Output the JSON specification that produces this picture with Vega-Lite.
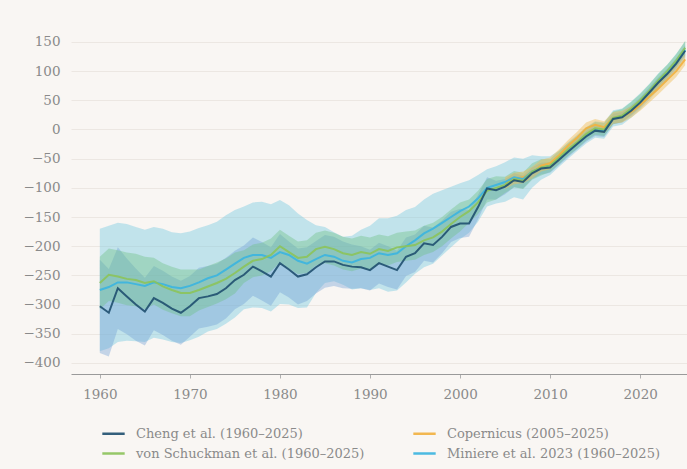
{
"$schema": "https://vega.github.io/schema/vega-lite/v6.json",
"width": 616, "height": 344,
"autosize": "none",
"padding": {"left": 71, "top": 30, "right": 0, "bottom": 95},
"background": "#f9f6f3",
"config": {"view": {"stroke": null}, "font": "DejaVu Serif"},
"data": {"values": [
{"s":"P","y":2005,"m":-92,"lo":-102,"hi":-82},{"s":"P","y":2006,"m":-84,"lo":-94,"hi":-74},{"s":"P","y":2007,"m":-82,"lo":-92,"hi":-72},{"s":"P","y":2008,"m":-74,"lo":-84,"hi":-64},{"s":"P","y":2009,"m":-62,"lo":-72,"hi":-52},{"s":"P","y":2010,"m":-58,"lo":-68,"hi":-48},{"s":"P","y":2011,"m":-44,"lo":-54,"hi":-34},{"s":"P","y":2012,"m":-28,"lo":-38,"hi":-18},{"s":"P","y":2013,"m":-14,"lo":-24,"hi":-4},{"s":"P","y":2014,"m":2,"lo":-8,"hi":12},{"s":"P","y":2015,"m":8,"lo":-2,"hi":18},{"s":"P","y":2016,"m":4,"lo":-6,"hi":14},{"s":"P","y":2017,"m":20,"lo":10,"hi":30},{"s":"P","y":2018,"m":22,"lo":12,"hi":32},{"s":"P","y":2019,"m":30,"lo":20,"hi":40},{"s":"P","y":2020,"m":42,"lo":32,"hi":52},{"s":"P","y":2021,"m":56,"lo":46,"hi":66},{"s":"P","y":2022,"m":70,"lo":60,"hi":80},{"s":"P","y":2023,"m":85,"lo":75,"hi":95},{"s":"P","y":2024,"m":100,"lo":90,"hi":110},{"s":"P","y":2025,"m":120,"lo":110,"hi":130},
{"s":"M","y":1960,"m":-275,"lo":-380,"hi":-170},{"s":"M","y":1961,"m":-270,"lo":-375,"hi":-165},{"s":"M","y":1962,"m":-262,"lo":-364,"hi":-160},{"s":"M","y":1963,"m":-262,"lo":-362,"hi":-162},{"s":"M","y":1964,"m":-265,"lo":-363,"hi":-167},{"s":"M","y":1965,"m":-268,"lo":-364,"hi":-172},{"s":"M","y":1966,"m":-262,"lo":-357,"hi":-167},{"s":"M","y":1967,"m":-265,"lo":-360,"hi":-170},{"s":"M","y":1968,"m":-270,"lo":-364,"hi":-176},{"s":"M","y":1969,"m":-272,"lo":-366,"hi":-178},{"s":"M","y":1970,"m":-268,"lo":-361,"hi":-175},{"s":"M","y":1971,"m":-262,"lo":-355,"hi":-169},{"s":"M","y":1972,"m":-255,"lo":-346,"hi":-164},{"s":"M","y":1973,"m":-250,"lo":-342,"hi":-158},{"s":"M","y":1974,"m":-240,"lo":-333,"hi":-147},{"s":"M","y":1975,"m":-230,"lo":-322,"hi":-138},{"s":"M","y":1976,"m":-220,"lo":-308,"hi":-132},{"s":"M","y":1977,"m":-215,"lo":-305,"hi":-125},{"s":"M","y":1978,"m":-215,"lo":-306,"hi":-124},{"s":"M","y":1979,"m":-220,"lo":-312,"hi":-128},{"s":"M","y":1980,"m":-210,"lo":-299,"hi":-121},{"s":"M","y":1981,"m":-215,"lo":-300,"hi":-130},{"s":"M","y":1982,"m":-225,"lo":-306,"hi":-144},{"s":"M","y":1983,"m":-230,"lo":-305,"hi":-155},{"s":"M","y":1984,"m":-222,"lo":-280,"hi":-164},{"s":"M","y":1985,"m":-215,"lo":-263,"hi":-167},{"s":"M","y":1986,"m":-218,"lo":-260,"hi":-176},{"s":"M","y":1987,"m":-225,"lo":-266,"hi":-184},{"s":"M","y":1988,"m":-228,"lo":-274,"hi":-182},{"s":"M","y":1989,"m":-222,"lo":-272,"hi":-172},{"s":"M","y":1990,"m":-220,"lo":-275,"hi":-165},{"s":"M","y":1991,"m":-212,"lo":-272,"hi":-152},{"s":"M","y":1992,"m":-215,"lo":-278,"hi":-152},{"s":"M","y":1993,"m":-212,"lo":-276,"hi":-148},{"s":"M","y":1994,"m":-200,"lo":-262,"hi":-138},{"s":"M","y":1995,"m":-190,"lo":-247,"hi":-133},{"s":"M","y":1996,"m":-178,"lo":-236,"hi":-120},{"s":"M","y":1997,"m":-170,"lo":-230,"hi":-110},{"s":"M","y":1998,"m":-160,"lo":-216,"hi":-104},{"s":"M","y":1999,"m":-150,"lo":-202,"hi":-98},{"s":"M","y":2000,"m":-140,"lo":-188,"hi":-92},{"s":"M","y":2001,"m":-132,"lo":-177,"hi":-87},{"s":"M","y":2002,"m":-118,"lo":-158,"hi":-78},{"s":"M","y":2003,"m":-100,"lo":-132,"hi":-68},{"s":"M","y":2004,"m":-95,"lo":-127,"hi":-63},{"s":"M","y":2005,"m":-90,"lo":-124,"hi":-56},{"s":"M","y":2006,"m":-82,"lo":-116,"hi":-48},{"s":"M","y":2007,"m":-85,"lo":-120,"hi":-50},{"s":"M","y":2008,"m":-72,"lo":-100,"hi":-44},{"s":"M","y":2009,"m":-66,"lo":-86,"hi":-46},{"s":"M","y":2010,"m":-62,"lo":-78,"hi":-46},{"s":"M","y":2011,"m":-50,"lo":-64,"hi":-36},{"s":"M","y":2012,"m":-36,"lo":-50,"hi":-22},{"s":"M","y":2013,"m":-23,"lo":-37,"hi":-9},{"s":"M","y":2014,"m":-10,"lo":-24,"hi":4},{"s":"M","y":2015,"m":0,"lo":-14,"hi":14},{"s":"M","y":2016,"m":-2,"lo":-16,"hi":12},{"s":"M","y":2017,"m":19,"lo":5,"hi":33},{"s":"M","y":2018,"m":22,"lo":8,"hi":36},{"s":"M","y":2019,"m":34,"lo":20,"hi":48},{"s":"M","y":2020,"m":48,"lo":34,"hi":62},{"s":"M","y":2021,"m":64,"lo":50,"hi":78},{"s":"M","y":2022,"m":82,"lo":68,"hi":96},{"s":"M","y":2023,"m":97,"lo":83,"hi":111},{"s":"M","y":2024,"m":116,"lo":102,"hi":130},{"s":"M","y":2025,"m":137,"lo":123,"hi":151},
{"s":"V","y":1960,"m":-263,"lo":-308,"hi":-218},{"s":"V","y":1961,"m":-249,"lo":-294,"hi":-204},{"s":"V","y":1962,"m":-252,"lo":-297,"hi":-207},{"s":"V","y":1963,"m":-256,"lo":-301,"hi":-211},{"s":"V","y":1964,"m":-258,"lo":-303,"hi":-213},{"s":"V","y":1965,"m":-263,"lo":-308,"hi":-218},{"s":"V","y":1966,"m":-260,"lo":-300,"hi":-220},{"s":"V","y":1967,"m":-269,"lo":-309,"hi":-229},{"s":"V","y":1968,"m":-275,"lo":-315,"hi":-235},{"s":"V","y":1969,"m":-280,"lo":-320,"hi":-240},{"s":"V","y":1970,"m":-280,"lo":-320,"hi":-240},{"s":"V","y":1971,"m":-275,"lo":-310,"hi":-240},{"s":"V","y":1972,"m":-269,"lo":-304,"hi":-234},{"s":"V","y":1973,"m":-263,"lo":-298,"hi":-228},{"s":"V","y":1974,"m":-256,"lo":-291,"hi":-221},{"s":"V","y":1975,"m":-246,"lo":-281,"hi":-211},{"s":"V","y":1976,"m":-235,"lo":-263,"hi":-207},{"s":"V","y":1977,"m":-225,"lo":-253,"hi":-197},{"s":"V","y":1978,"m":-222,"lo":-250,"hi":-194},{"s":"V","y":1979,"m":-215,"lo":-243,"hi":-187},{"s":"V","y":1980,"m":-200,"lo":-228,"hi":-172},{"s":"V","y":1981,"m":-210,"lo":-238,"hi":-182},{"s":"V","y":1982,"m":-220,"lo":-248,"hi":-192},{"s":"V","y":1983,"m":-218,"lo":-246,"hi":-190},{"s":"V","y":1984,"m":-205,"lo":-233,"hi":-177},{"s":"V","y":1985,"m":-201,"lo":-229,"hi":-173},{"s":"V","y":1986,"m":-205,"lo":-233,"hi":-177},{"s":"V","y":1987,"m":-212,"lo":-240,"hi":-184},{"s":"V","y":1988,"m":-215,"lo":-243,"hi":-187},{"s":"V","y":1989,"m":-210,"lo":-238,"hi":-182},{"s":"V","y":1990,"m":-213,"lo":-241,"hi":-185},{"s":"V","y":1991,"m":-205,"lo":-230,"hi":-180},{"s":"V","y":1992,"m":-208,"lo":-233,"hi":-183},{"s":"V","y":1993,"m":-202,"lo":-227,"hi":-177},{"s":"V","y":1994,"m":-200,"lo":-225,"hi":-175},{"s":"V","y":1995,"m":-198,"lo":-223,"hi":-173},{"s":"V","y":1996,"m":-190,"lo":-215,"hi":-165},{"s":"V","y":1997,"m":-185,"lo":-210,"hi":-160},{"s":"V","y":1998,"m":-175,"lo":-200,"hi":-150},{"s":"V","y":1999,"m":-162,"lo":-187,"hi":-137},{"s":"V","y":2000,"m":-150,"lo":-175,"hi":-125},{"s":"V","y":2001,"m":-140,"lo":-160,"hi":-120},{"s":"V","y":2002,"m":-125,"lo":-145,"hi":-105},{"s":"V","y":2003,"m":-105,"lo":-125,"hi":-85},{"s":"V","y":2004,"m":-100,"lo":-120,"hi":-80},{"s":"V","y":2005,"m":-95,"lo":-109,"hi":-81},{"s":"V","y":2006,"m":-85,"lo":-99,"hi":-71},{"s":"V","y":2007,"m":-88,"lo":-102,"hi":-74},{"s":"V","y":2008,"m":-72,"lo":-86,"hi":-58},{"s":"V","y":2009,"m":-65,"lo":-79,"hi":-51},{"s":"V","y":2010,"m":-62,"lo":-73,"hi":-51},{"s":"V","y":2011,"m":-48,"lo":-59,"hi":-37},{"s":"V","y":2012,"m":-34,"lo":-45,"hi":-23},{"s":"V","y":2013,"m":-22,"lo":-33,"hi":-11},{"s":"V","y":2014,"m":-8,"lo":-19,"hi":3},{"s":"V","y":2015,"m":2,"lo":-9,"hi":13},{"s":"V","y":2016,"m":0,"lo":-11,"hi":11},{"s":"V","y":2017,"m":20,"lo":9,"hi":31},{"s":"V","y":2018,"m":24,"lo":13,"hi":35},{"s":"V","y":2019,"m":36,"lo":25,"hi":47},{"s":"V","y":2020,"m":50,"lo":39,"hi":61},{"s":"V","y":2021,"m":66,"lo":55,"hi":77},{"s":"V","y":2022,"m":84,"lo":73,"hi":95},{"s":"V","y":2023,"m":100,"lo":89,"hi":111},{"s":"V","y":2024,"m":118,"lo":107,"hi":129},{"s":"V","y":2025,"m":140,"lo":128,"hi":152},
{"s":"C","y":1960,"m":-303,"lo":-383,"hi":-223},{"s":"C","y":1961,"m":-314,"lo":-389,"hi":-239},{"s":"C","y":1962,"m":-272,"lo":-342,"hi":-202},{"s":"C","y":1963,"m":-286,"lo":-351,"hi":-221},{"s":"C","y":1964,"m":-300,"lo":-362,"hi":-238},{"s":"C","y":1965,"m":-312,"lo":-370,"hi":-254},{"s":"C","y":1966,"m":-289,"lo":-344,"hi":-234},{"s":"C","y":1967,"m":-297,"lo":-352,"hi":-242},{"s":"C","y":1968,"m":-307,"lo":-362,"hi":-252},{"s":"C","y":1969,"m":-314,"lo":-369,"hi":-259},{"s":"C","y":1970,"m":-303,"lo":-355,"hi":-251},{"s":"C","y":1971,"m":-289,"lo":-341,"hi":-237},{"s":"C","y":1972,"m":-286,"lo":-338,"hi":-234},{"s":"C","y":1973,"m":-282,"lo":-334,"hi":-230},{"s":"C","y":1974,"m":-272,"lo":-324,"hi":-220},{"s":"C","y":1975,"m":-258,"lo":-308,"hi":-208},{"s":"C","y":1976,"m":-249,"lo":-299,"hi":-199},{"s":"C","y":1977,"m":-235,"lo":-285,"hi":-185},{"s":"C","y":1978,"m":-243,"lo":-293,"hi":-193},{"s":"C","y":1979,"m":-252,"lo":-302,"hi":-202},{"s":"C","y":1980,"m":-229,"lo":-279,"hi":-179},{"s":"C","y":1981,"m":-240,"lo":-288,"hi":-192},{"s":"C","y":1982,"m":-252,"lo":-300,"hi":-204},{"s":"C","y":1983,"m":-248,"lo":-294,"hi":-202},{"s":"C","y":1984,"m":-236,"lo":-281,"hi":-191},{"s":"C","y":1985,"m":-226,"lo":-271,"hi":-181},{"s":"C","y":1986,"m":-226,"lo":-268,"hi":-184},{"s":"C","y":1987,"m":-232,"lo":-272,"hi":-192},{"s":"C","y":1988,"m":-235,"lo":-273,"hi":-197},{"s":"C","y":1989,"m":-236,"lo":-272,"hi":-200},{"s":"C","y":1990,"m":-241,"lo":-276,"hi":-206},{"s":"C","y":1991,"m":-229,"lo":-264,"hi":-194},{"s":"C","y":1992,"m":-235,"lo":-270,"hi":-200},{"s":"C","y":1993,"m":-241,"lo":-274,"hi":-208},{"s":"C","y":1994,"m":-218,"lo":-251,"hi":-185},{"s":"C","y":1995,"m":-212,"lo":-244,"hi":-180},{"s":"C","y":1996,"m":-195,"lo":-225,"hi":-165},{"s":"C","y":1997,"m":-198,"lo":-228,"hi":-168},{"s":"C","y":1998,"m":-184,"lo":-212,"hi":-156},{"s":"C","y":1999,"m":-167,"lo":-193,"hi":-141},{"s":"C","y":2000,"m":-161,"lo":-186,"hi":-136},{"s":"C","y":2001,"m":-161,"lo":-184,"hi":-138},{"s":"C","y":2002,"m":-133,"lo":-154,"hi":-112},{"s":"C","y":2003,"m":-101,"lo":-120,"hi":-82},{"s":"C","y":2004,"m":-104,"lo":-120,"hi":-88},{"s":"C","y":2005,"m":-98,"lo":-111,"hi":-85},{"s":"C","y":2006,"m":-87,"lo":-99,"hi":-75},{"s":"C","y":2007,"m":-90,"lo":-101,"hi":-79},{"s":"C","y":2008,"m":-75,"lo":-85,"hi":-65},{"s":"C","y":2009,"m":-67,"lo":-77,"hi":-57},{"s":"C","y":2010,"m":-65,"lo":-74,"hi":-56},{"s":"C","y":2011,"m":-52,"lo":-61,"hi":-43},{"s":"C","y":2012,"m":-38,"lo":-47,"hi":-29},{"s":"C","y":2013,"m":-25,"lo":-34,"hi":-16},{"s":"C","y":2014,"m":-12,"lo":-21,"hi":-3},{"s":"C","y":2015,"m":-2,"lo":-11,"hi":7},{"s":"C","y":2016,"m":-4,"lo":-13,"hi":5},{"s":"C","y":2017,"m":18,"lo":9,"hi":27},{"s":"C","y":2018,"m":21,"lo":12,"hi":30},{"s":"C","y":2019,"m":32,"lo":23,"hi":41},{"s":"C","y":2020,"m":46,"lo":37,"hi":55},{"s":"C","y":2021,"m":63,"lo":54,"hi":72},{"s":"C","y":2022,"m":80,"lo":71,"hi":89},{"s":"C","y":2023,"m":95,"lo":86,"hi":104},{"s":"C","y":2024,"m":113,"lo":104,"hi":122},{"s":"C","y":2025,"m":135,"lo":126,"hi":144}
]},
"encoding": {
  "x": {"field": "y", "type": "quantitative", "scale": {"domain": [1956.8, 2025.2], "nice": false, "zero": false},
        "axis": {"values": [1960, 1970, 1980, 1990, 2000, 2010, 2020], "format": "d", "title": null, "grid": false,
                 "domainColor": "#9a9a9a", "tickColor": "#b0b0b0", "tickSize": 4, "labelColor": "#8a8a8a",
                 "labelFontSize": 13.5, "labelPadding": 9, "labelFont": "DejaVu Serif"}},
  "y": {"type": "quantitative", "scale": {"domain": [-419, 170.5], "nice": false, "zero": false},
        "axis": {"values": [-400, -350, -300, -250, -200, -150, -100, -50, 0, 50, 100, 150], "title": null,
                 "grid": true, "gridColor": "#ece7e2", "domain": false, "ticks": false, "labelPadding": 11,
                 "labelColor": "#8a8a8a", "labelFontSize": 13.5, "labelFont": "DejaVu Serif"}}
},
"layer": [
  {"transform": [{"filter": "datum.s == 'M'"}], "mark": {"type": "area", "color": "#74c8e0", "opacity": 0.42},
   "encoding": {"y": {"field": "lo"}, "y2": {"field": "hi"}}},
  {"transform": [{"filter": "datum.s == 'C'"}], "mark": {"type": "area", "color": "#6f9fd4", "opacity": 0.38},
   "encoding": {"y": {"field": "lo"}, "y2": {"field": "hi"}}},
  {"transform": [{"filter": "datum.s == 'V'"}], "mark": {"type": "area", "color": "#6dbf82", "opacity": 0.38},
   "encoding": {"y": {"field": "lo"}, "y2": {"field": "hi"}}},
  {"transform": [{"filter": "datum.s == 'P'"}], "mark": {"type": "area", "color": "#f0bd55", "opacity": 0.45},
   "encoding": {"y": {"field": "lo"}, "y2": {"field": "hi"}}},
  {"mark": {"type": "line", "strokeWidth": 2, "opacity": 0.9},
   "encoding": {"y": {"field": "m"},
     "color": {"field": "s", "type": "nominal",
       "scale": {"domain": ["C", "V", "P", "M"], "range": ["#1f4f6f", "#8cc35a", "#f2b13f", "#3ab4e0"]},
       "legend": {"orient": "none", "legendX": 30, "legendY": 391, "columns": 2, "title": null,
         "symbolType": "stroke", "symbolSize": 500, "symbolStrokeWidth": 2.5, "labelFont": "DejaVu Serif",
         "labelFontSize": 13, "labelColor": "#8a8a8a", "columnPadding": 43, "rowPadding": 0, "labelOffset": 10,
         "padding": 0, "labelLimit": 400,
         "labelExpr": "datum.label == 'C' ? 'Cheng et al. (1960–2025)' : datum.label == 'P' ? 'Copernicus (2005–2025)' : datum.label == 'V' ? 'von Schuckman et al. (1960–2025)' : 'Miniere et al. 2023 (1960–2025)'"}}}}
]
}
